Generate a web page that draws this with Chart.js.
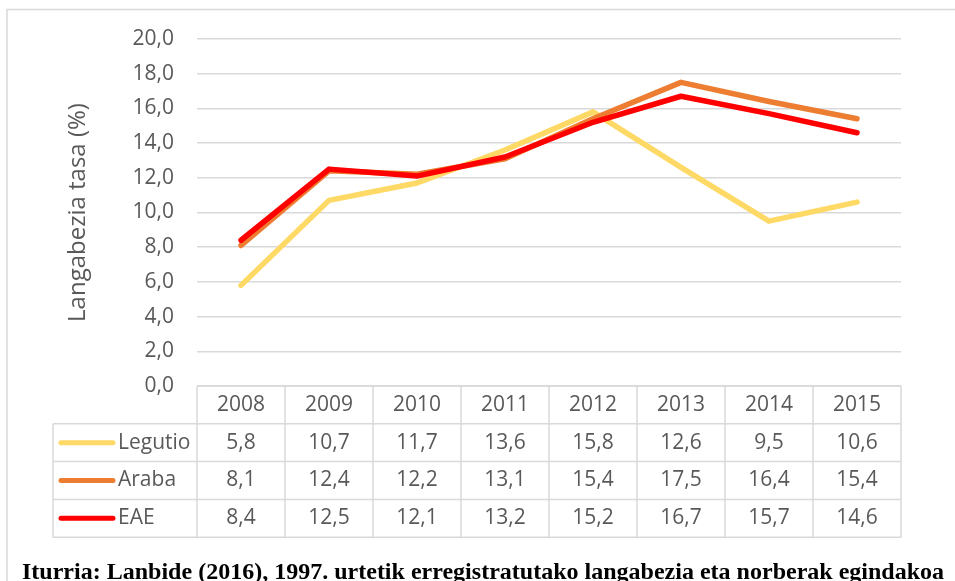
<!DOCTYPE html>
<html>
<head>
<meta charset="utf-8">
<script src="https://cdn.jsdelivr.net/npm/chart.js@4"></script>
<style>
  body { margin: 0; background: #fff; }
  canvas { display: block; }
</style>
</head>
<body>
<canvas id="myChart" width="955" height="581"></canvas>
<script>
var years = ["2008", "2009", "2010", "2011", "2012", "2013", "2014", "2015"];
var legutio = [5.8, 10.7, 11.7, 13.6, 15.8, 12.6, 9.5, 10.6];
var araba = [8.1, 12.4, 12.2, 13.1, 15.4, 17.5, 16.4, 15.4];
var eae = [8.4, 12.5, 12.1, 13.2, 15.2, 16.7, 15.7, 14.6];
var seriesNames = ["Legutio", "Araba", "EAE"];
var seriesColors = ["#FFD966", "#ED7D31", "#FF0000"];
var sourceText = "Iturria: Lanbide (2016), 1997. urtetik erregistratutako langabezia eta norberak egindakoa";

var fontName = "'Open Sans', sans-serif";
var textColor = "#595959";
var lineColor = "#D9D9D9";

function fmt(v) {
  return v.toFixed(1).replace(".", ",");
}

// draws the frame, the data table under the plot and the source line
var tablePlugin = {
  id: "dataTable",
  beforeDraw: function (chart) {
    var ctx = chart.ctx;
    ctx.save();
    ctx.strokeStyle = lineColor;
    ctx.lineWidth = 1.5;
    ctx.beginPath();
    ctx.moveTo(7, 581);
    ctx.lineTo(7, 9.5);
    ctx.lineTo(955, 9.5);
    ctx.stroke();
    ctx.restore();
  },
  afterDraw: function (chart) {
    var ctx = chart.ctx;
    var x = chart.scales.x;
    var area = chart.chartArea;
    var colW = (area.right - area.left) / years.length;
    var rowH = 37.8;
    var legendLeft = 53;
    var top = area.bottom;
    var all = [legutio, araba, eae];

    ctx.save();
    ctx.strokeStyle = lineColor;
    ctx.lineWidth = 1.5;
    ctx.beginPath();
    // horizontal lines
    ctx.moveTo(area.left, top);
    ctx.lineTo(area.right, top);
    for (var r = 1; r <= 4; r++) {
      ctx.moveTo(legendLeft, top + r * rowH);
      ctx.lineTo(area.right, top + r * rowH);
    }
    // vertical lines
    for (var c = 0; c <= years.length; c++) {
      var cx = area.left + c * colW;
      ctx.moveTo(cx, top);
      ctx.lineTo(cx, top + 4 * rowH);
    }
    ctx.moveTo(legendLeft, top + rowH);
    ctx.lineTo(legendLeft, top + 4 * rowH);
    ctx.stroke();

    ctx.fillStyle = textColor;
    ctx.font = "21px " + fontName;
    ctx.textAlign = "center";
    ctx.textBaseline = "middle";
    for (var i = 0; i < years.length; i++) {
      var px = x.getPixelForValue(i);
      ctx.fillText(years[i], px, top + rowH * 0.5);
      for (var s = 0; s < all.length; s++) {
        ctx.fillText(fmt(all[s][i]), px, top + rowH * (s + 1.5));
      }
    }

    // legend keys
    for (var s = 0; s < seriesNames.length; s++) {
      var ly = top + rowH * (s + 1.5);
      ctx.strokeStyle = seriesColors[s];
      ctx.lineWidth = 5;
      ctx.lineCap = "round";
      ctx.beginPath();
      ctx.moveTo(61, ly);
      ctx.lineTo(113, ly);
      ctx.stroke();
      ctx.fillStyle = textColor;
      ctx.textAlign = "left";
      ctx.fillText(seriesNames[s], 118, ly);
    }

    // source line, sized to the width it takes in the reference
    ctx.fillStyle = "#000";
    ctx.textAlign = "left";
    ctx.textBaseline = "alphabetic";
    var size = 20;
    ctx.font = "bold " + size + "px 'Liberation Serif', serif";
    var w = ctx.measureText(sourceText).width;
    size = size * 923 / w;
    ctx.font = "bold " + size + "px 'Liberation Serif', serif";
    ctx.fillText(sourceText, 22, 563 + size * 0.662);
    ctx.restore();
  }
};

var ctx = document.getElementById("myChart");
var myChart = new Chart(ctx, {
  type: "line",
  data: {
    labels: years,
    datasets: [
      {
        label: seriesNames[0],
        data: legutio,
        borderColor: seriesColors[0],
        order: 3
      },
      {
        label: seriesNames[1],
        data: araba,
        borderColor: seriesColors[1],
        order: 2
      },
      {
        label: seriesNames[2],
        data: eae,
        borderColor: seriesColors[2],
        order: 1
      }
    ]
  },
  options: {
    responsive: false,
    animation: false,
    layout: {
      padding: { top: 39, right: 54, left: 0, bottom: 0 }
    },
    elements: {
      line: {
        borderWidth: 5.5,
        borderCapStyle: "round",
        borderJoinStyle: "round",
        tension: 0
      },
      point: { radius: 0, hoverRadius: 0 }
    },
    plugins: {
      legend: { display: false },
      tooltip: { enabled: false }
    },
    scales: {
      x: {
        offset: true,
        grid: { display: false },
        border: { display: false },
        ticks: { display: false },
        afterFit: function (scale) {
          scale.height = 581 - 386;
        }
      },
      y: {
        min: 0,
        max: 20,
        ticks: {
          stepSize: 2,
          padding: 23,
          color: textColor,
          font: { family: fontName, size: 21 },
          callback: function (v) {
            return fmt(v);
          }
        },
        grid: {
          color: lineColor,
          lineWidth: 1.5,
          drawTicks: false
        },
        border: { display: false },
        title: {
          display: true,
          text: "Langabezia tasa (%)",
          color: textColor,
          font: { family: fontName, size: 24 },
          padding: { top: 64, bottom: 0 }
        },
        afterFit: function (scale) {
          scale.width = 197;
        }
      }
    }
  },
  plugins: [tablePlugin]
});
</script>
</body>
</html>
